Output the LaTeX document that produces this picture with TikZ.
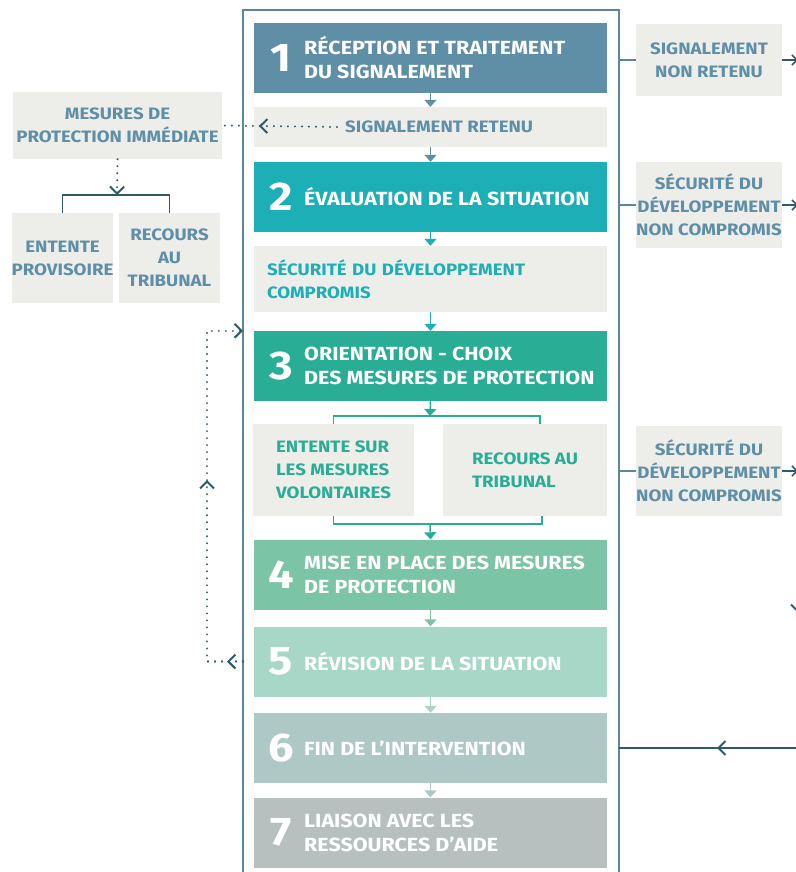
\documentclass[tikz,border=0pt]{standalone}
\usepackage{fontspec}
\setmainfont{Fira Sans}[FakeStretch=1.13]
\usepackage{tikz}
\usetikzlibrary{arrows.meta,decorations.markings}

\definecolor{stepA}{HTML}{5E8FA7}
\definecolor{stepB}{HTML}{1CAFB6}
\definecolor{stepC}{HTML}{29AE95}
\definecolor{stepD}{HTML}{7CC4A6}
\definecolor{stepE}{HTML}{A7D7C7}
\definecolor{stepF}{HTML}{AEC8C5}
\definecolor{stepG}{HTML}{B7C0BF}
\definecolor{greybox}{HTML}{EDEDEA}
\definecolor{frameline}{HTML}{5A879C}
\definecolor{darkline}{HTML}{2F5A6B}

\tikzset{
  stepbox/.style={rectangle, minimum width=353pt, minimum height=70pt, inner sep=0pt},
  notebox/.style={rectangle, fill=greybox, inner sep=0pt,
    font=\fontsize{16.5}{23}\selectfont\bfseries},
  numlbl/.style={text=white, inner sep=0pt, font=\fontsize{40}{40}\selectfont\bfseries},
  titlelbl/.style={text=white, anchor=west, align=left, inner sep=0pt,
    font=\fontsize{19}{24}\selectfont\bfseries},
  downarrow/.style={line width=1.5pt, -{Triangle[width=12pt,length=7pt]}},
  chev/.tip={Straight Barb[length=7pt,width=14pt,line width=2pt]},
  smallchev/.tip={Straight Barb[length=5pt,width=10pt,line width=1.5pt]},
  frame/.style={draw=frameline, line width=1.5pt},
  rail/.style={draw=darkline, line width=1.5pt},
  dotline/.style={draw=darkline, line width=2.2pt, line cap=round,
    dash pattern=on 0.01pt off 7pt}
}

\begin{document}
\begin{tikzpicture}[x=1pt,y=-1pt]
\useasboundingbox (0,0) rectangle (795,872);

\coordinate (fl) at (243,0);
\coordinate (fr) at (619,0);
\coordinate (rl) at (798,0);
\draw[frame] (243,880) |- (619,10) -- (619,880);

% the seven steps
\foreach \n/\y/\c/\t in {1/58/stepA/{RÉCEPTION ET TRAITEMENT\\DU SIGNALEMENT},
    2/197/stepB/{ÉVALUATION DE LA SITUATION},
    3/366/stepC/{ORIENTATION - CHOIX\\DES MESURES DE PROTECTION},
    4/574.5/stepD/{MISE EN PLACE DES MESURES\\DE PROTECTION},
    5/661.5/stepE/{RÉVISION DE LA SITUATION},
    6/748/stepF/{FIN DE L’INTERVENTION},
    7/832.5/stepG/{LIAISON AVEC LES\\RESSOURCES D’AIDE}}{
  \node[stepbox, fill=\c] (s\n) at (430.5,\y) {};
  \node[numlbl] (n\n) at (281,\y) {\n};
  \node[titlelbl] (t\n) at (304,\y) {\t};
}

% notes inside the frame
\node[notebox, minimum width=353pt, minimum height=40pt] (ret) at (430.5,127) {};
\node[notebox, fill=none, text=stepA, anchor=west, inner xsep=8pt] (rett) at (337,127) {SIGNALEMENT RETENU};
\node[notebox, text=stepB, minimum width=353pt, minimum height=66pt,
  inner xsep=13pt, text width=327pt, align=left] (comp) at (430.5,279)
  {SÉCURITÉ DU DÉVELOPPEMENT\\COMPROMIS};
\node[notebox, text=stepC, minimum width=161pt, minimum height=92pt, align=left]
  (ent) at (333.5,470) {ENTENTE SUR\\LES MESURES\\VOLONTAIRES};
\node[notebox, text=stepC, minimum width=164pt, minimum height=92pt, align=left]
  (rec) at (525,470) {RECOURS AU\\TRIBUNAL};

% notes on the left
\node[notebox, text=stepA, minimum width=209pt, minimum height=67pt, align=center]
  (mes) at (117.5,125.5) {MESURES DE\\PROTECTION IMMÉDIATE};
\node[notebox, text=stepA, minimum width=99pt, minimum height=90pt, align=center]
  (ep) at (62.5,258) {ENTENTE\\PROVISOIRE};
\node[notebox, text=stepA, minimum width=101pt, minimum height=90pt, align=center]
  (rt) at (169.5,258) {RECOURS\\AU\\TRIBUNAL};

% notes on the right
\node[notebox, text=stepA, minimum width=146pt, minimum height=72pt, align=center]
  (nr) at (709,60) {SIGNALEMENT\\NON RETENU};
\node[notebox, text=stepA, minimum width=146pt, minimum height=86pt, align=center]
  (nc1) at (709,205) {SÉCURITÉ DU\\DÉVELOPPEMENT\\NON COMPROMIS};
\node[notebox, text=stepA, minimum width=146pt, minimum height=90pt, align=center]
  (nc2) at (709,471) {SÉCURITÉ DU\\DÉVELOPPEMENT\\NON COMPROMIS};

% main flow
\coordinate (jt) at (430,416);
\coordinate (jb) at (430,524);
\draw[downarrow, stepA] (s1.south) -- (ret.north);
\draw[downarrow, stepA] (ret.south) -- (s2.north);
\draw[downarrow, stepB] (s2.south) -- (comp.north);
\draw[downarrow, stepB] (comp.south) -- (s3.north);
\draw[downarrow, stepC] (s3.south) -- (jt);
\draw[stepC, line width=1.5pt] (ent.north) |- ([xshift=15pt]rec.north |- jt) -- ([xshift=15pt]rec.north);
\draw[stepC, line width=1.5pt] (ent.south) |- ([xshift=17pt]rec.south |- jb) -- ([xshift=17pt]rec.south);
\draw[downarrow, stepC] (jb) -- (s4.north);
\draw[downarrow, stepD] (s4.south) -- (s5.north);
\draw[downarrow, stepE] (s5.south) -- (s6.north);
\draw[downarrow, stepF] (s6.south) -- (s7.north);

% immediate protection
\coordinate (jm) at (117,195);
\begin{scope}[dotline, decoration={markings,
    mark=at position 0.68 with {\arrow{chev}}}]
    \draw[postaction={decorate}] (rett.west) -- (mes.east);
\end{scope}
\draw[dotline, -chev] (mes.south) -- (jm);
\draw[rail] (ep.north) |- (jm) -| (rt.north);

% review loop
\begin{scope}[dotline, decoration={markings,
    mark=at position 16pt with {\arrow{chev}},
    mark=at position 0.54 with {\arrow{chev}}}]
    \draw[postaction={decorate}, -chev] (s5.west -| fl) -- ++(-36,0) |- (s3.north west -| fl);
\end{scope}

% exits on the right
\draw[frame] (nr.west -| fr) -- (nr.west);
\draw[frame] (nc1.west -| fr) -- (nc1.west);
\draw[frame] (nc2.west -| fr) -- (nc2.west);
\draw[rail, -smallchev] (nr.east) -- (nr.east -| rl);
\draw[rail, -smallchev] (nc1.east) -- (nc1.east -| rl);
\draw[rail, -smallchev] (nc2.east) -- (nc2.east -| rl);
\begin{scope}[rail, decoration={markings,
    mark=at position 553pt with {\arrow{chev}},
    mark=at position 769pt with {\arrow{chev}}}]
    \draw[postaction={decorate}] (nr.east -| rl) -- (rl |- s6.east) -- (s6.east -| fr);
\end{scope}
\end{tikzpicture}
\end{document}
